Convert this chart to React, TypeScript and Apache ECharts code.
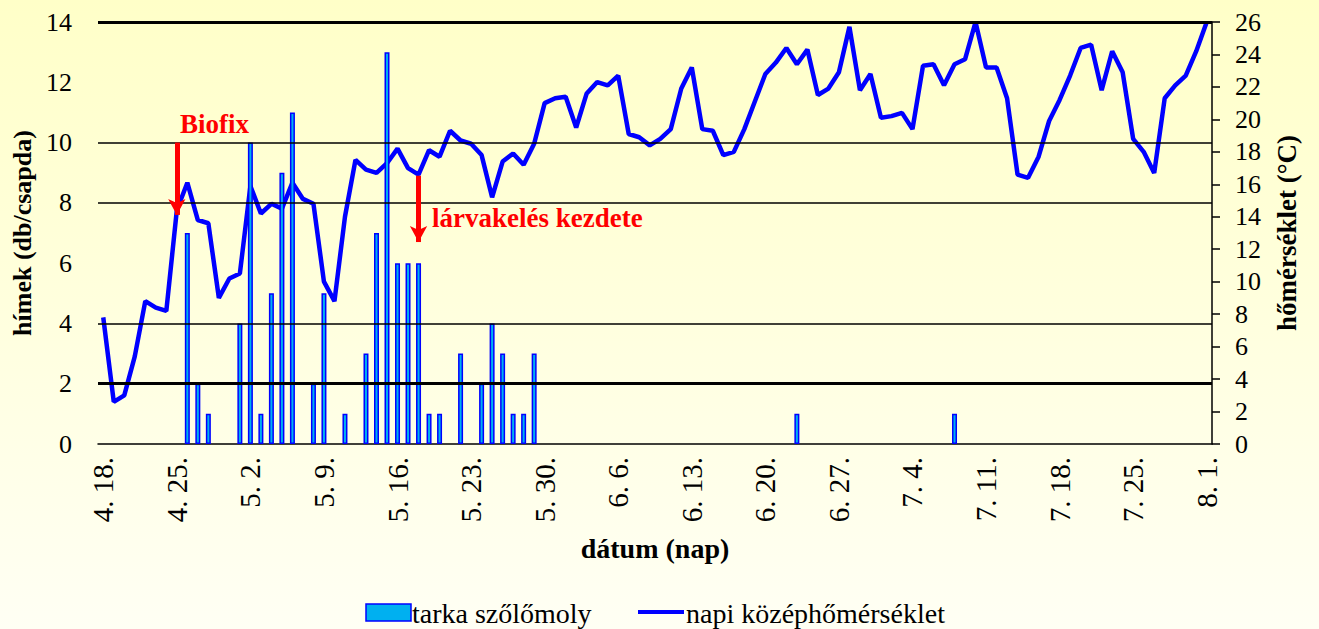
import React, { useEffect, useRef } from "react";
import * as echarts from "echarts";

// 4.18 .. 8.1 (106 days)
const monthDays: [number, number, number][] = [
  [4, 18, 30],
  [5, 1, 31],
  [6, 1, 30],
  [7, 1, 31],
  [8, 1, 1],
];
const dates: string[] = [];
monthDays.forEach(([m, from, to]) => {
  for (let d = from; d <= to; d++) dates.push(`${m}. ${d}.`);
});

// tarka szőlőmoly, hímek (db/csapda)
const moths: (number | null)[] = [
  null, null, null, null, null, null, null, null, 7, 2,
  1, null, null, 4, 10, 1, 5, 9, 11, null,
  2, 5, null, 1, null, 3, 7, 13, 6, 6,
  6, 1, 1, null, 3, null, 2, 4, 3, 1,
  1, 3, null, null, null, null, null, null, null, null,
  null, null, null, null, null, null, null, null, null, null,
  null, null, null, null, null, null, 1, null, null, null,
  null, null, null, null, null, null, null, null, null, null,
  null, 1, null, null, null, null, null, null, null, null,
  null, null, null, null, null, null, null, null, null, null,
  null, null, null, null, null, null,
];

// napi középhőmérséklet (°C)
const temps: number[] = [
  7.8, 2.6, 3.0, 5.4, 8.8, 8.4, 8.2, 14.4, 16.1, 13.8,
  13.6, 9.0, 10.2, 10.5, 15.9, 14.2, 14.8, 14.5, 16.1, 15.1,
  14.8, 10.0, 8.8, 14.0, 17.5, 16.9, 16.7, 17.3, 18.2, 17.0,
  16.6, 18.1, 17.7, 19.3, 18.7, 18.5, 17.8, 15.2, 17.4, 17.9,
  17.2, 18.5, 21.0, 21.3, 21.4, 19.5, 21.6, 22.3, 22.1, 22.7,
  19.1, 18.9, 18.4, 18.8, 19.4, 21.9, 23.2, 19.4, 19.3, 17.8,
  18.0, 19.4, 21.1, 22.8, 23.5, 24.4, 23.4, 24.3, 21.5, 21.9,
  22.9, 25.7, 21.8, 22.8, 20.1, 20.2, 20.4, 19.4, 23.3, 23.4,
  22.1, 23.4, 23.7, 26.0, 23.2, 23.2, 21.3, 16.6, 16.4, 17.7,
  19.9, 21.2, 22.7, 24.4, 24.6, 21.8, 24.2, 22.9, 18.8, 18.0,
  16.7, 21.3, 22.1, 22.7, 24.2, 26.0,
];

const seriesNames = ["tarka szőlőmoly", "napi középhőmérséklet"];
const hiddenTicks = [0, 21, 42, 63, 105];
const FONT = "Liberation Serif";

export default function App() {
  const ref = useRef<HTMLDivElement>(null);
  useEffect(() => {
    document.body.style.margin = "0";
    if (!ref.current) return;
    const chart = echarts.init(ref.current, undefined, { renderer: "svg" });
    chart.setOption({
      animation: false,
      textStyle: { fontFamily: FONT },
      grid: { left: 98, right: 107, top: 22, bottom: 185 },
      legend: { show: false },
      xAxis: {
        type: "category",
        data: dates,
        boundaryGap: true,
        name: "dátum (nap)",
        nameLocation: "middle",
        nameGap: 90,
        nameTextStyle: { fontFamily: FONT, fontSize: 28, fontWeight: "bold", color: "#000" },
        axisLine: { lineStyle: { color: "#000", width: 1.5 } },
        axisTick: {
          length: 8,
          lineStyle: { color: "#000", width: 1.5 },
          interval: (i: number) => i % 7 === 0 && !hiddenTicks.includes(i),
        },
        axisLabel: {
          interval: 6,
          rotate: 90,
          margin: 13,
          fontSize: 29,
          fontFamily: FONT,
          color: "#000",
        },
      },
      yAxis: [
        {
          type: "value",
          min: 0,
          max: 14,
          interval: 2,
          name: "hímek (db/csapda)",
          nameLocation: "middle",
          nameRotate: 90,
          nameGap: 60,
          nameTextStyle: { fontFamily: FONT, fontSize: 26, fontWeight: "bold", color: "#000" },
          axisLine: { show: false },
          axisTick: { show: false },
          splitLine: { show: false },
          axisLabel: { fontSize: 26, fontFamily: FONT, color: "#000", margin: 26 },
        },
        {
          type: "value",
          min: 0,
          max: 26,
          interval: 2,
          position: "right",
          name: "hőmérséklet (°C)",
          nameLocation: "middle",
          nameRotate: 90,
          nameGap: 61,
          nameTextStyle: { fontFamily: FONT, fontSize: 27, fontWeight: "bold", color: "#000" },
          axisLine: { show: true, lineStyle: { color: "#000", width: 1.5 } },
          axisTick: { show: true, length: 8, lineStyle: { color: "#000", width: 1.5 } },
          splitLine: { show: false },
          axisLabel: { fontSize: 26, fontFamily: FONT, color: "#000", margin: 23 },
        },
      ],
      series: [
        {
          type: "line",
          data: [],
          z: 1,
          silent: true,
          markLine: {
            silent: true,
            symbol: ["none", "none"],
            label: { show: false },
            lineStyle: { color: "#000", type: "solid", width: 1.5 },
            data: [
              { yAxis: 2, lineStyle: { width: 3 } },
              { yAxis: 4 },
              { yAxis: 8 },
              { yAxis: 10 },
              { yAxis: 14, lineStyle: { width: 3 } },
            ],
          },
        },
        {
          name: seriesNames[1],
          type: "line",
          yAxisIndex: 1,
          data: temps,
          symbol: "none",
          z: 2,
          lineStyle: { color: "#0000FF", width: 4.5 },
          itemStyle: { color: "#0000FF" },
        },
        {
          name: seriesNames[0],
          type: "bar",
          yAxisIndex: 0,
          data: moths,
          barWidth: 5,
          z: 3,
          itemStyle: { color: "#00B0F0", borderColor: "#0000FF", borderWidth: 1.5 },
          markLine: {
            silent: true,
            symbol: ["none", "arrow"],
            symbolSize: [13, 16],
            label: { show: false },
            lineStyle: { color: "#FF0000", type: "solid", width: 5 },
            data: [
              [{ coord: [dates[7], 10] }, { coord: [dates[7], 7.6] }],
              [{ coord: [dates[30], 8.9] }, { coord: [dates[30], 6.7] }],
            ],
          },
        },
      ],
      graphic: [
        {
          type: "text",
          left: 180,
          top: 110,
          z: 10,
          style: { text: "Biofix", fill: "#FF0000", fontFamily: FONT, fontSize: 27, fontWeight: "bold" },
        },
        {
          type: "text",
          left: 432,
          top: 204,
          z: 10,
          style: { text: "lárvakelés kezdete", fill: "#FF0000", fontFamily: FONT, fontSize: 27, fontWeight: "bold" },
        },
        // legend
        {
          type: "rect",
          shape: { x: 366, y: 604, width: 45, height: 17 },
          style: { fill: "#00B0F0", stroke: "#0000FF", lineWidth: 1.5 },
        },
        {
          type: "text",
          x: 412,
          y: 613,
          style: { text: seriesNames[0], fill: "#000", fontFamily: FONT, fontSize: 28, verticalAlign: "middle" },
        },
        {
          type: "line",
          shape: { x1: 638, y1: 612, x2: 684, y2: 612 },
          style: { stroke: "#0000FF", lineWidth: 4 },
        },
        {
          type: "text",
          x: 686,
          y: 613,
          style: { text: seriesNames[1], fill: "#000", fontFamily: FONT, fontSize: 28, verticalAlign: "middle" },
        },
      ],
    });
    return () => chart.dispose();
  }, []);
  return (
    <div
      ref={ref}
      style={{
        width: 1319,
        height: 629,
        background: "linear-gradient(to bottom, #FFFFC8 0%, #FFFFF4 100%)",
      }}
    />
  );
}
